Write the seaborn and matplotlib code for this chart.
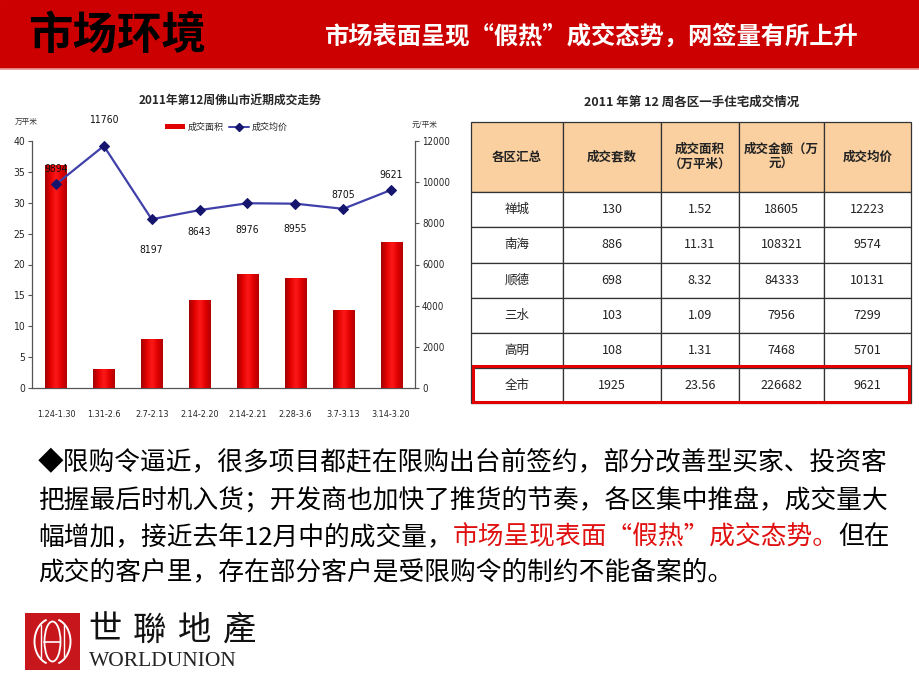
import numpy as np
import pandas as pd
import matplotlib
matplotlib.use('Agg')
import matplotlib.pyplot as plt
import seaborn as sns
from matplotlib.patches import Rectangle, Patch, Ellipse, Arc
from matplotlib.lines import Line2D
from matplotlib.colors import LinearSegmentedColormap

# chart data
weeks = ['1.24-1.30', '1.31-2.6', '2.7-2.13', '2.14-2.20',
         '2.14-2.21', '2.28-3.6', '3.7-3.13', '3.14-3.20']
area = [36.1, 3.0, 7.9, 14.2, 18.4, 17.8, 12.7, 23.7]      # 万平米
price = [9894, 11760, 8197, 8643, 8976, 8955, 8705, 9621]  # 元/平米

# table data
table_cols = ['各区汇总', '成交套数', '成交面积\n（万平米）', '成交金额（万\n元）', '成交均价']
districts = ['禅城', '南海', '顺德', '三水', '高明', '全市']
units_sold = [130, 886, 698, 103, 108, 1925]
area_sold = ['1.52', '11.31', '8.32', '1.09', '1.31', '23.56']
amount = [18605, 108321, 84333, 7956, 7468, 226682]
avg_price = [12223, 9574, 10131, 7299, 5701, 9621]

# slide text
page_title = '市场环境'
page_subtitle = '市场表面呈现“假热”成交态势，网签量有所上升'
chart_title = '2011年第12周佛山市近期成交走势'
table_title = '2011 年第 12 周各区一手住宅成交情况'
para_lines = [
    [('◆限购令逼近，很多项目都赶在限购出台前签约，部分改善型买家、投资客', 'k')],
    [('把握最后时机入货；开发商也加快了推货的节奏，各区集中推盘，成交量大', 'k')],
    [('幅增加，接近去年12月中的成交量，', 'k'),
     ('市场呈现表面“假热”成交态势。', '#E01010'),
     ('但在', 'k')],
    [('成交的客户里，存在部分客户是受限购令的制约不能备案的。', 'k')],
]

sns.set_style('white')
plt.rcParams['font.family'] = ['Noto Sans CJK SC', 'DejaVu Sans']
CJK = ['Noto Sans CJK SC', 'DejaVu Sans']
NUM = ['DejaVu Sans', 'Noto Sans CJK SC']

W, H = 920, 690
fig = plt.figure(figsize=(9.2, 6.9), dpi=100)
fig.patch.set_facecolor('white')


def fx(px):
    return px / W


def fy(py):
    return 1 - py / H


# header band
fig.add_artist(Rectangle((0, fy(68)), 1, 68 / H, transform=fig.transFigure,
                         color='#CC0000', zorder=0))
fig.add_artist(Line2D([0, 1], [fy(69), fy(69)], transform=fig.transFigure,
                      color='#E89A9A', lw=1.2))
fig.text(fx(28), fy(36), page_title, fontsize=32, color='black',
         family=CJK, weight='bold', va='center', ha='left')
fig.text(fx(325), fy(37), page_subtitle, fontsize=17.5, color='white',
         family=CJK, weight='bold', va='center', ha='left')

# ---- bar + line chart
ax = fig.add_axes([fx(32), fy(388), 383 / W, 247 / H])
df = pd.DataFrame({'week': weeks, 'area': area, 'price': price})
sns.barplot(data=df, x='week', y='area', color='#E00000', width=0.44,
            saturation=1, ax=ax, zorder=2)

# red gradient on the bars, clipped to each bar
cmap = LinearSegmentedColormap.from_list(
    'barred', ['#A00000', '#E20000', '#FF1A1A', '#E20000', '#B00000'])
grad = np.linspace(0, 1, 64).reshape(1, -1)
for p in list(ax.patches):
    x0, w, h = p.get_x(), p.get_width(), p.get_height()
    im = ax.imshow(grad, extent=[x0, x0 + w, 0, h], aspect='auto',
                   cmap=cmap, zorder=3, interpolation='bicubic')
    im.set_clip_path(p)

ax.set_xlim(-0.5, len(weeks) - 0.5)
ax.set_ylim(0, 40)
ax.set_yticks(np.arange(0, 41, 5))
ax.set_xlabel('')
ax.set_ylabel('')
ax.set_xticks(np.arange(0.5, len(weeks) - 0.5), minor=True)
ax.tick_params(axis='x', which='major', length=0, pad=16, labelsize=6.5)
ax.tick_params(axis='x', which='minor', direction='in', length=3,
               color='#555555', width=0.8)
ax.tick_params(axis='y', direction='out', length=3, width=0.8,
               color='#555555', labelsize=7.5, pad=2)
for lbl in ax.get_xticklabels() + ax.get_yticklabels():
    lbl.set_fontfamily(NUM)
    lbl.set_fontstretch('condensed')
for s in ['top', 'right']:
    ax.spines[s].set_visible(False)
for s in ['left', 'bottom']:
    ax.spines[s].set_color('#555555')
    ax.spines[s].set_linewidth(0.9)
ax.grid(False)

ax2 = ax.twinx()
sns.lineplot(x=np.arange(len(price)), y=price, ax=ax2, color='#4040AA',
             lw=1.6, marker='D', markersize=5, markerfacecolor='#15156E',
             markeredgecolor='#15156E')
ax2.set_xlim(-0.5, len(weeks) - 0.5)
ax2.set_ylim(0, 12000)
ax2.set_yticks(np.arange(0, 12001, 2000))
ax2.set_ylabel('')
ax2.tick_params(axis='y', direction='out', length=3, width=0.8,
                color='#555555', labelsize=7, pad=2)
for lbl in ax2.get_yticklabels():
    lbl.set_fontfamily(NUM)
    lbl.set_fontstretch('condensed')
for s in ['top', 'left', 'bottom']:
    ax2.spines[s].set_visible(False)
ax2.spines['right'].set_color('#555555')
ax2.spines['right'].set_linewidth(0.9)
ax2.grid(False)

label_dy = [11, 19, -22, -16, -19, -18, 10, 11]
for i, v in enumerate(price):
    ax2.annotate(str(v), (i, v), xytext=(0, label_dy[i]),
                 textcoords='offset points', ha='center', va='center',
                 fontsize=7.5, family=NUM, fontstretch='condensed',
                 color='#111111')

fig.text(fx(230), fy(100), chart_title, fontsize=8.5, weight='bold',
         family=CJK, ha='center', va='center')
fig.text(fx(26), fy(122), '万平米', fontsize=5.5, family=CJK,
         ha='center', va='center', color='#333333')
fig.text(fx(425), fy(125), '元/平米', fontsize=5.5, family=CJK,
         ha='center', va='center', color='#333333')
handles = [Patch(facecolor='#E00000', edgecolor='none'),
           Line2D([0], [0], color='#4040AA', lw=1.4, marker='D',
                  markersize=4, markerfacecolor='#15156E',
                  markeredgecolor='#15156E')]
fig.legend(handles, ['成交面积', '成交均价'], loc='center',
           bbox_to_anchor=(fx(226), fy(127)), ncol=2, frameon=False,
           prop={'family': CJK, 'size': 6.5}, handlelength=2.2,
           handleheight=0.6, columnspacing=0.6, handletextpad=0.3)

# ---- table
tax = fig.add_axes([fx(471), fy(403), 440 / W, 281 / H])
tax.axis('off')
cell_text = [[d, str(u), a, str(m), str(p)]
             for d, u, a, m, p in zip(districts, units_sold, area_sold,
                                      amount, avg_price)]
col_w = np.array([92, 98, 78, 85, 87], dtype=float)
tbl = tax.table(cellText=cell_text, colLabels=table_cols,
                colWidths=list(col_w / col_w.sum()), cellLoc='center',
                bbox=[0, 0, 1, 1])
tbl.auto_set_font_size(False)
tbl.set_fontsize(9)
for (r, c), cell in tbl.get_celld().items():
    cell.set_edgecolor('#333333')
    cell.set_linewidth(0.9)
    t = cell.get_text()
    t.set_fontfamily(CJK)
    t.set_multialignment('center')
    if r == 0:
        cell.set_height(70)
        cell.set_facecolor('#FAD0A0')
        t.set_fontweight('bold')
        t.set_color('#222222')
    else:
        cell.set_height(35)
        cell.set_facecolor('white')
        t.set_color('#222222')
tax.add_patch(Rectangle((2 / 440, 1 / 281), 436 / 440, 36 / 281,
                        transform=tax.transAxes, fill=False,
                        ec='#E00000', lw=2.2, clip_on=False, zorder=10))
fig.text(fx(692), fy(102), table_title, fontsize=9, weight='bold',
         family=CJK, ha='center', va='center')

# ---- paragraph
renderer = fig.canvas.get_renderer()
line_y = [463, 500, 537, 572]
for parts, yy in zip(para_lines, line_y):
    x = fx(38)
    for txt, col in parts:
        t = fig.text(x, fy(yy), txt, fontsize=18.5, color=col, family=CJK,
                     weight='light', ha='left', va='center')
        bb = t.get_window_extent(renderer)
        x = fig.transFigure.inverted().transform((bb.x1, bb.y0))[0]

# ---- logo
lax = fig.add_axes([fx(25), fy(670), 55 / W, 57 / H])
lax.set_xlim(0, 55)
lax.set_ylim(0, 57)
lax.axis('off')
lax.add_patch(Rectangle((0, 0), 55, 57, color='#C8161D'))
lax.add_patch(Arc((27.5, 28.5), 36, 46, theta1=105, theta2=255,
                  color='white', lw=1.4))
lax.add_patch(Arc((27.5, 28.5), 36, 46, theta1=-75, theta2=75,
                  color='white', lw=1.4))
lax.add_patch(Ellipse((27.5, 28.5), 16, 40, fill=False, ec='white', lw=1.3))
lax.plot([19.5, 35.5], [28.5, 28.5], color='white', lw=1.2)
lax.plot([16, 16], [12, 45], color='white', lw=1.0)
lax.plot([39, 39], [12, 45], color='white', lw=1.0)

for i, ch in enumerate('世聯地產'):
    fig.text(fx(88 + i * 45), fy(630), ch, fontsize=24, family=CJK,
             ha='left', va='center', color='#111111')
fig.text(fx(89), fy(662), 'WORLDUNION', fontsize=15.5,
         family=['Liberation Serif', 'DejaVu Serif'], ha='left',
         va='center', color='#222222')

fig.savefig('out.png', dpi=100)
